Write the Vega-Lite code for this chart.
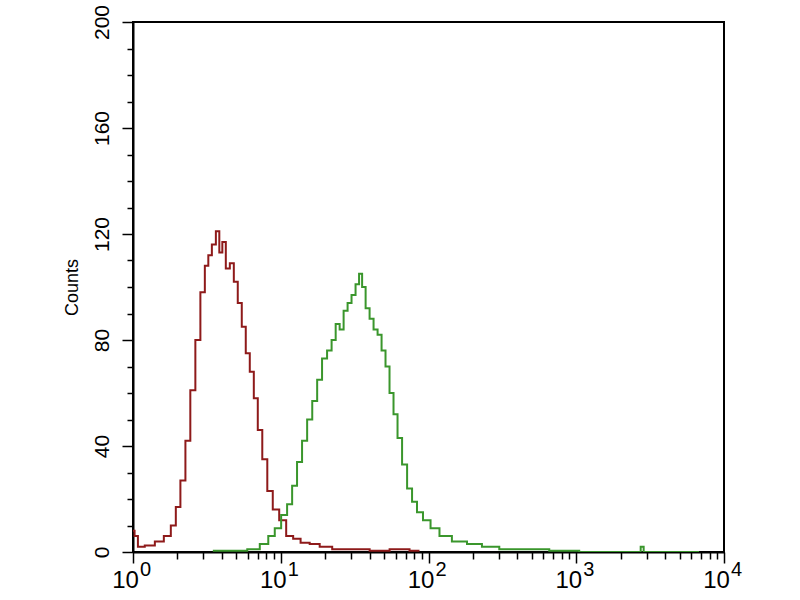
{
  "$schema": "https://vega.github.io/schema/vega-lite/v6.json",
  "width": 591,
  "height": 530,
  "autosize": "none",
  "padding": {"left": 133, "top": 22, "right": 76, "bottom": 48},
  "background": "white",
  "config": {
    "view": {"stroke": "black", "strokeWidth": 2},
    "font": "Liberation Sans",
    "axis": {"grid": false, "domainColor": "black", "domainWidth": 2, "tickColor": "black", "tickWidth": 1.5, "labelColor": "black", "titleColor": "black", "labelFont": "Liberation Sans", "titleFont": "Liberation Sans"}
  },
  "data": {"values": [
    {"x": 1.0, "count": 8, "series": "control"},
    {"x": 1.05, "count": 6, "series": "control"},
    {"x": 1.11, "count": 2, "series": "control"},
    {"x": 1.3, "count": 2.5, "series": "control"},
    {"x": 1.52, "count": 4, "series": "control"},
    {"x": 1.72, "count": 6, "series": "control"},
    {"x": 1.89, "count": 10, "series": "control"},
    {"x": 2.01, "count": 17, "series": "control"},
    {"x": 2.18, "count": 27, "series": "control"},
    {"x": 2.35, "count": 42, "series": "control"},
    {"x": 2.54, "count": 61, "series": "control"},
    {"x": 2.75, "count": 80, "series": "control"},
    {"x": 2.97, "count": 98, "series": "control"},
    {"x": 3.16, "count": 108, "series": "control"},
    {"x": 3.31, "count": 112, "series": "control"},
    {"x": 3.53, "count": 116, "series": "control"},
    {"x": 3.75, "count": 121, "series": "control"},
    {"x": 3.93, "count": 113, "series": "control"},
    {"x": 4.12, "count": 117, "series": "control"},
    {"x": 4.38, "count": 107, "series": "control"},
    {"x": 4.67, "count": 109, "series": "control"},
    {"x": 4.96, "count": 102, "series": "control"},
    {"x": 5.28, "count": 94, "series": "control"},
    {"x": 5.62, "count": 85, "series": "control"},
    {"x": 5.98, "count": 75, "series": "control"},
    {"x": 6.37, "count": 68, "series": "control"},
    {"x": 6.78, "count": 58, "series": "control"},
    {"x": 7.21, "count": 46, "series": "control"},
    {"x": 7.8, "count": 35, "series": "control"},
    {"x": 8.43, "count": 23, "series": "control"},
    {"x": 9.25, "count": 16, "series": "control"},
    {"x": 10.3, "count": 12, "series": "control"},
    {"x": 11.5, "count": 6, "series": "control"},
    {"x": 12.8, "count": 5, "series": "control"},
    {"x": 14.5, "count": 3.5, "series": "control"},
    {"x": 17.0, "count": 3, "series": "control"},
    {"x": 19.8, "count": 2, "series": "control"},
    {"x": 25.1, "count": 1, "series": "control"},
    {"x": 34.2, "count": 1, "series": "control"},
    {"x": 46.7, "count": 0.5, "series": "control"},
    {"x": 63.7, "count": 1, "series": "control"},
    {"x": 86.9, "count": 0.5, "series": "control"},
    {"x": 3.47, "count": 0.5, "series": "sample"},
    {"x": 5.28, "count": 0.5, "series": "sample"},
    {"x": 6.67, "count": 1, "series": "sample"},
    {"x": 7.8, "count": 3, "series": "sample"},
    {"x": 8.69, "count": 6, "series": "sample"},
    {"x": 9.55, "count": 9, "series": "sample"},
    {"x": 10.6, "count": 14, "series": "sample"},
    {"x": 11.5, "count": 18, "series": "sample"},
    {"x": 12.4, "count": 25, "series": "sample"},
    {"x": 13.4, "count": 34, "series": "sample"},
    {"x": 14.5, "count": 42, "series": "sample"},
    {"x": 15.7, "count": 50, "series": "sample"},
    {"x": 17.0, "count": 57, "series": "sample"},
    {"x": 18.3, "count": 65, "series": "sample"},
    {"x": 19.8, "count": 73, "series": "sample"},
    {"x": 21.4, "count": 76, "series": "sample"},
    {"x": 22.8, "count": 80, "series": "sample"},
    {"x": 24.3, "count": 86, "series": "sample"},
    {"x": 25.8, "count": 84, "series": "sample"},
    {"x": 27.5, "count": 91, "series": "sample"},
    {"x": 29.2, "count": 94, "series": "sample"},
    {"x": 31.1, "count": 97, "series": "sample"},
    {"x": 33.1, "count": 101, "series": "sample"},
    {"x": 34.7, "count": 105, "series": "sample"},
    {"x": 36.4, "count": 100, "series": "sample"},
    {"x": 38.7, "count": 92, "series": "sample"},
    {"x": 41.2, "count": 88, "series": "sample"},
    {"x": 43.8, "count": 84, "series": "sample"},
    {"x": 46.7, "count": 82, "series": "sample"},
    {"x": 49.6, "count": 76, "series": "sample"},
    {"x": 52.8, "count": 70, "series": "sample"},
    {"x": 56.2, "count": 60, "series": "sample"},
    {"x": 59.8, "count": 52, "series": "sample"},
    {"x": 63.7, "count": 43, "series": "sample"},
    {"x": 68.9, "count": 33, "series": "sample"},
    {"x": 74.5, "count": 24, "series": "sample"},
    {"x": 80.4, "count": 19, "series": "sample"},
    {"x": 86.9, "count": 15, "series": "sample"},
    {"x": 96.9, "count": 12, "series": "sample"},
    {"x": 110, "count": 9, "series": "sample"},
    {"x": 128, "count": 6, "series": "sample"},
    {"x": 162, "count": 4, "series": "sample"},
    {"x": 205, "count": 3, "series": "sample"},
    {"x": 258, "count": 2, "series": "sample"},
    {"x": 352, "count": 1, "series": "sample"},
    {"x": 562, "count": 1, "series": "sample"},
    {"x": 767, "count": 0.5, "series": "sample"},
    {"x": 1430, "count": 0, "series": "sample"},
    {"x": 2670, "count": 0, "series": "sample"},
    {"x": 2790, "count": 2, "series": "sample"},
    {"x": 2930, "count": 0, "series": "sample"},
    {"x": 6780, "count": 0, "series": "sample"}
  ]},
  "encoding": {
    "y": {
      "field": "count", "type": "quantitative",
      "scale": {"domain": [0, 200], "nice": false},
      "axis": {
        "title": "Counts", "titleFontSize": 18, "titleFontWeight": "normal", "titlePadding": 10,
        "values": [0,10,20,30,40,50,60,70,80,90,100,110,120,130,140,150,160,170,180,190,200],
        "labelExpr": "datum.value % 40 === 0 ? datum.label : ''",
        "tickSize": {"condition": {"test": "datum.value % 40 === 0", "value": 11}, "value": 6},
        "labelAngle": 270, "labelFontSize": 21, "labelPadding": 10
      }
    }
  },
  "layer": [
    {
      "transform": [{"filter": "datum.series === 'control'"}],
      "mark": {"type": "line", "interpolate": "step", "color": "#8e1a1a", "strokeWidth": 2, "clip": true},
      "encoding": {
        "x": {
          "field": "x", "type": "quantitative",
          "scale": {"type": "log", "domain": [1, 10000], "nice": false},
          "axis": {
            "title": null, "orient": "bottom",
            "values": [1,2,3,4,5,6,7,8,9,10,20,30,40,50,60,70,80,90,100,200,300,400,500,600,700,800,900,1000,2000,3000,4000,5000,6000,7000,8000,9000,10000],
            "labelExpr": "indexof([1,10,100,1000,10000], datum.value) >= 0 ? '10' : ''",
            "tickSize": {"condition": {"test": "indexof([1,10,100,1000,10000], datum.value) >= 0", "value": 11}, "value": 7},
            "labelFontSize": 24, "labelPadding": 5, "labelOffset": -8, "labelOverlap": false, "labelFlush": false
          }
        }
      }
    },
    {
      "transform": [{"filter": "datum.series === 'sample'"}],
      "mark": {"type": "line", "interpolate": "step", "color": "#3a962c", "strokeWidth": 2, "clip": true},
      "encoding": {
        "x": {
          "field": "x", "type": "quantitative",
          "scale": {"type": "log", "domain": [1, 10000], "nice": false},
          "axis": {
            "title": null, "orient": "bottom", "domain": false, "ticks": false, "tickSize": 0,
            "values": [1, 10, 100, 1000, 10000],
            "labelExpr": "format(log(datum.value) / LN10, '.0f')",
            "labelFontSize": 20, "labelPadding": 7, "labelOffset": 12, "labelOverlap": false, "labelFlush": false
          }
        }
      }
    }
  ],
  "resolve": {"axis": {"x": "independent"}}
}
